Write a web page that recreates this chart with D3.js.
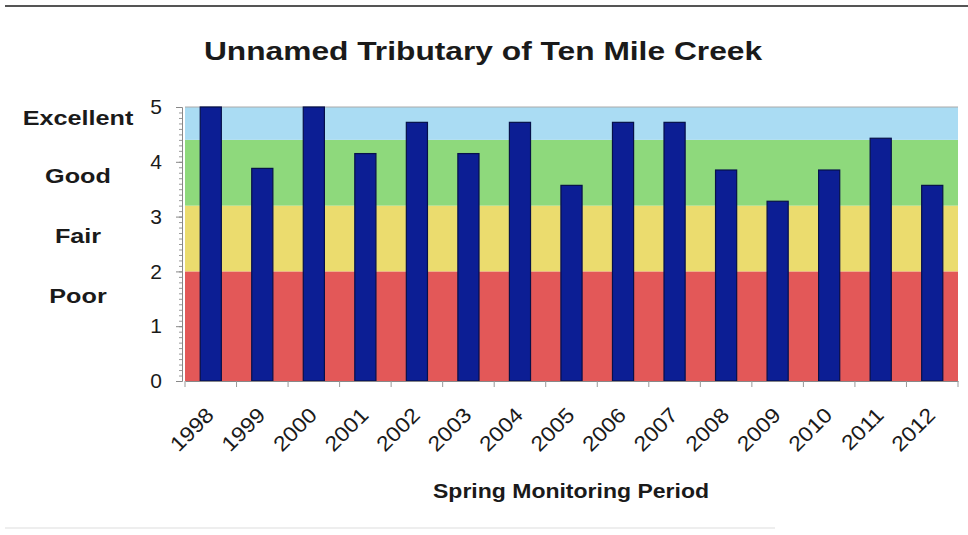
<!DOCTYPE html>
<html>
<head>
<meta charset="utf-8">
<script src="https://cdn.jsdelivr.net/npm/d3@7"></script>
<style>
  body { margin: 0; background: #fff; }
  svg text { font-family: "Liberation Sans", Arial, sans-serif; fill: #1a1a1a; }
</style>
</head>
<body>
<div id="chart"></div>
<script>
// data
var years = ["1998", "1999", "2000", "2001", "2002", "2003", "2004", "2005",
    "2006", "2007", "2008", "2009", "2010", "2011", "2012"];
var scores = [5.0, 3.88, 5.0, 4.15, 4.72, 4.15, 4.72, 3.57, 4.72, 4.72, 3.85, 3.28, 3.85, 4.43, 3.57];
var bandNames = ["Poor", "Fair", "Good", "Excellent"];
var bandLow = [0, 2, 3.2, 4.4];
var bandHigh = [2, 3.2, 4.4, 5];
var bandLabelAt = [1.55, 2.65, 3.75, 4.8];
var bandColors = ["#e35858", "#ebdc6e", "#8ed97c", "#aadcf3"];
var yTicks = [0, 1, 2, 3, 4, 5];

var width = 968, height = 535;
var margin = {top: 107, right: 10, bottom: 154, left: 185};
var plotW = width - margin.left - margin.right;
var plotH = height - margin.top - margin.bottom;

var svg = d3.select("#chart").append("svg")
    .attr("width", width)
    .attr("height", height);

// the text in the picture is a bit wider than plain Arial
function stretch(sel, k) {
    sel.each(function() {
        var w = this.getComputedTextLength();
        d3.select(this)
            .attr("textLength", w * k)
            .attr("lengthAdjust", "spacingAndGlyphs");
    });
}

// frame lines of the screenshot
svg.append("line")
    .attr("x1", 5).attr("x2", width).attr("y1", 6).attr("y2", 6)
    .style("stroke", "#555").style("stroke-width", 2);
svg.append("line")
    .attr("x1", 5).attr("x2", 775).attr("y1", 528).attr("y2", 528)
    .style("stroke", "#eee").style("stroke-width", 2);

// title
svg.append("text")
    .attr("x", 483).attr("y", 60)
    .style("text-anchor", "middle")
    .style("font-size", "26px")
    .style("font-weight", "bold")
    .text("Unnamed Tributary of Ten Mile Creek")
    .call(stretch, 1.22);

var g = svg.append("g")
    .attr("transform", "translate(" + margin.left + "," + margin.top + ")");

// scales
var x = d3.scaleBand().domain(years).range([0, plotW]).paddingInner(0.59).paddingOuter(0.295);
var xTick = d3.scaleBand().domain(years).range([0, plotW]);
var y = d3.scaleLinear().domain([0, 5]).range([plotH, 0]);

// rating bands
g.selectAll("rect.band")
    .data(bandNames)
    .enter().append("rect")
    .attr("class", "band")
    .attr("x", 0)
    .attr("width", plotW)
    .attr("y", function(d, i) { return y(bandHigh[i]); })
    .attr("height", function(d, i) { return y(bandLow[i]) - y(bandHigh[i]); })
    .style("fill", function(d, i) { return bandColors[i]; });

g.append("line")
    .attr("x1", 0).attr("x2", plotW).attr("y1", 0).attr("y2", 0)
    .style("stroke", "#aaa").style("stroke-width", 1);

// bars
g.selectAll("rect.bar")
    .data(scores)
    .enter().append("rect")
    .attr("class", "bar")
    .attr("x", function(d, i) { return x(years[i]); })
    .attr("width", x.bandwidth())
    .attr("y", function(d) { return y(d); })
    .attr("height", function(d) { return plotH - y(d); })
    .style("fill", "#0c1e94")
    .style("stroke", "#06104a")
    .style("stroke-width", 1.2);

// y axis with minor ticks
var gyMinor = g.append("g")
    .attr("transform", "translate(-3,0)")
    .call(d3.axisLeft(y).ticks(50).tickSize(3).tickFormat(""));
gyMinor.selectAll("line").style("stroke", "#999");
gyMinor.select(".domain").remove();

var gy = g.append("g")
    .attr("transform", "translate(-3,0)")
    .call(d3.axisLeft(y).tickValues(yTicks).tickSize(6).tickPadding(14).tickFormat(d3.format("d")));
gy.select(".domain").style("stroke", "#888");
gy.selectAll("line").style("stroke", "#888");
gy.selectAll("text").style("font-size", "21px").style("fill", "#1a1a1a");

// rating labels
g.selectAll("text.rating")
    .data(bandNames)
    .enter().append("text")
    .attr("class", "rating")
    .attr("x", -107)
    .attr("y", function(d, i) { return y(bandLabelAt[i]); })
    .attr("dy", "0.35em")
    .style("text-anchor", "middle")
    .style("font-size", "21px")
    .style("font-weight", "bold")
    .text(function(d) { return d; })
    .call(stretch, 1.2);

// x axis
var gx = g.append("g")
    .attr("transform", "translate(0," + plotH + ")")
    .call(d3.axisBottom(xTick).tickSize(0).tickFormat(""));
gx.select(".domain").style("stroke", "#888");

g.append("g")
    .attr("transform", "translate(0," + plotH + ")")
    .selectAll("line")
    .data(years.concat(["end"]))
    .enter().append("line")
    .attr("x1", function(d, i) { return i * xTick.step(); })
    .attr("x2", function(d, i) { return i * xTick.step(); })
    .attr("y1", 0).attr("y2", 6)
    .style("stroke", "#999");

g.selectAll("text.year")
    .data(years)
    .enter().append("text")
    .attr("class", "year")
    .attr("transform", function(d) {
        return "translate(" + (xTick(d) + xTick.bandwidth() / 2 - 6) + "," + (plotH + 25) + ")rotate(-45)";
    })
    .attr("dy", "0.7em")
    .style("text-anchor", "end")
    .style("font-size", "21px")
    .text(function(d) { return d; })
    .call(stretch, 1.1);

// axis title
svg.append("text")
    .attr("x", 571).attr("y", 498)
    .style("text-anchor", "middle")
    .style("font-size", "20px")
    .style("font-weight", "bold")
    .text("Spring Monitoring Period")
    .call(stretch, 1.15);
</script>
</body>
</html>
